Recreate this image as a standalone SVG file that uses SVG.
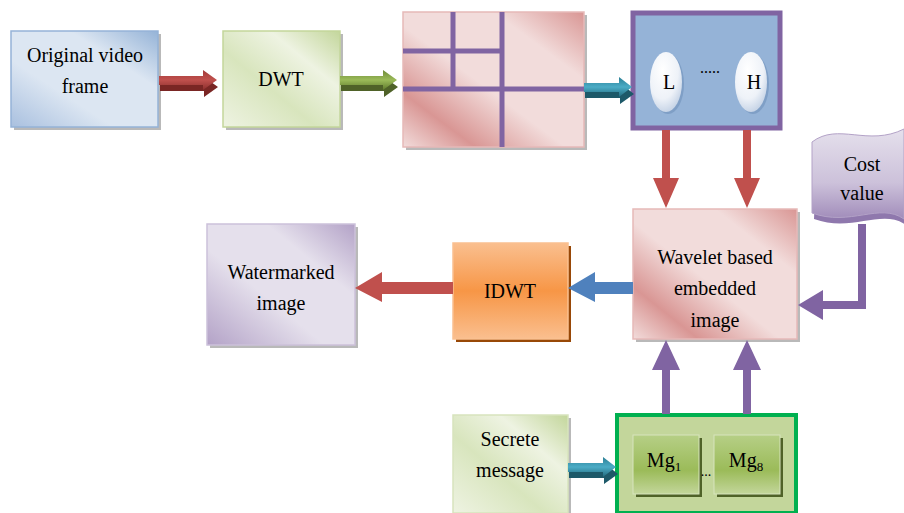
<svg xmlns="http://www.w3.org/2000/svg" width="904" height="513" viewBox="0 0 904 513">
<defs>
<linearGradient id="gBlue" x1="0" y1="1" x2="1" y2="0"><stop offset="0" stop-color="#a9c0df"/><stop offset="0.35" stop-color="#dce6f2"/><stop offset="0.7" stop-color="#dce6f2"/><stop offset="1" stop-color="#95b3d7"/></linearGradient>
<linearGradient id="gGreen" x1="0" y1="1" x2="1" y2="0"><stop offset="0" stop-color="#eef3e2"/><stop offset="0.4" stop-color="#d8e5bd"/><stop offset="0.7" stop-color="#eef3e2"/><stop offset="1" stop-color="#c3d69b"/></linearGradient>
<linearGradient id="gPink" x1="0" y1="1" x2="1" y2="0"><stop offset="0" stop-color="#f2dcdb"/><stop offset="0.2" stop-color="#d99694"/><stop offset="0.45" stop-color="#f2dcdb"/><stop offset="0.75" stop-color="#f2dcdb"/><stop offset="1" stop-color="#d99694"/></linearGradient>
<linearGradient id="gPurple" x1="0" y1="1" x2="1" y2="0"><stop offset="0" stop-color="#b3a2c7"/><stop offset="0.4" stop-color="#e5e0ec"/><stop offset="0.7" stop-color="#e5e0ec"/><stop offset="1" stop-color="#b3a2c7"/></linearGradient>
<linearGradient id="gOrange" x1="0" y1="0" x2="0" y2="1"><stop offset="0" stop-color="#fabf8f"/><stop offset="0.5" stop-color="#f79646"/><stop offset="1" stop-color="#fabf8f"/></linearGradient>
<linearGradient id="gMg" x1="0" y1="0" x2="0" y2="1"><stop offset="0" stop-color="#b6cf86"/><stop offset="0.6" stop-color="#9bbb59"/><stop offset="1" stop-color="#c3d69b"/></linearGradient>
<linearGradient id="gCost" x1="0" y1="0" x2="0" y2="1"><stop offset="0" stop-color="#e5e0ec"/><stop offset="0.6" stop-color="#ccc1da"/><stop offset="1" stop-color="#a18cba"/></linearGradient>
<radialGradient id="gEll" cx="0.4" cy="0.3" r="0.8"><stop offset="0" stop-color="#ffffff"/><stop offset="0.6" stop-color="#eef2f8"/><stop offset="1" stop-color="#b8c9e0"/></radialGradient>
<linearGradient id="gArrRed" x1="0" y1="0" x2="0" y2="1"><stop offset="0" stop-color="#a33a38"/><stop offset="0.5" stop-color="#c0504d"/><stop offset="1" stop-color="#8c2f2d"/></linearGradient>
<linearGradient id="gArrGreen" x1="0" y1="0" x2="0" y2="1"><stop offset="0" stop-color="#6f8a38"/><stop offset="0.5" stop-color="#9bbb59"/><stop offset="1" stop-color="#5f7a2c"/></linearGradient>
<linearGradient id="gArrTeal" x1="0" y1="0" x2="0" y2="1"><stop offset="0" stop-color="#2c7f95"/><stop offset="0.5" stop-color="#4bacc6"/><stop offset="1" stop-color="#226a7d"/></linearGradient>
</defs>
<style>
text{font-family:"Liberation Serif","DejaVu Serif","Times New Roman",serif;font-size:20px;fill:#000;text-anchor:middle}
.sh{fill:#7f7f7f;opacity:0.55}
.grid{stroke:#8064a2;stroke-width:5;fill:none}
</style>

<g id="original">
<rect class="sh" x="14" y="34" width="147" height="96"/>
<rect x="11" y="31" width="147" height="96" fill="url(#gBlue)" stroke="#95b3d7" stroke-width="1.5"/>
<text x="85" y="62">Original video</text>
<text x="85" y="93">frame</text>
</g>

<g id="dwt">
<rect class="sh" x="226" y="34" width="117" height="96"/>
<rect x="223" y="31" width="117" height="96" fill="url(#gGreen)" stroke="#c3d69b" stroke-width="1.5"/>
<text x="281" y="86">DWT</text>
</g>

<g id="subbands">
<rect class="sh" x="406" y="15" width="181" height="135"/>
<rect x="403" y="12" width="181" height="135" fill="url(#gPink)" stroke="#e6b9b8" stroke-width="1.5"/>
<line class="grid" x1="453" y1="12" x2="453" y2="89"/>
<line class="grid" x1="502" y1="12" x2="502" y2="147"/>
<line class="grid" x1="403" y1="51" x2="502" y2="51"/>
<line class="grid" x1="403" y1="89" x2="584" y2="89"/>
</g>

<g id="lh">
<rect x="633" y="13" width="147" height="115" fill="#95b3d7" stroke="#8064a2" stroke-width="5"/>
<ellipse cx="668" cy="84" rx="16" ry="30" fill="#7f9fc6"/>
<ellipse cx="666" cy="82" rx="16" ry="30" fill="url(#gEll)"/>
<ellipse cx="753" cy="84" rx="16" ry="30" fill="#7f9fc6"/>
<ellipse cx="751" cy="82" rx="16" ry="30" fill="url(#gEll)"/>
<text x="669" y="89">L</text>
<text x="754" y="89">H</text>
<text x="710" y="73" style="font-size:16px">.....</text>
</g>

<g id="cost">
<path d="M815,145 C840,125 870,150 904,132 L904,222 C880,205 850,230 812,216 Z" fill="#8f78ad" transform="translate(2,3)"/>
<path d="M812,142 C838,122 868,147 904,129 L904,219 C880,202 850,227 812,213 Z" fill="url(#gCost)" stroke="#b3a2c7" stroke-width="1"/>
<text x="862" y="171">Cost</text>
<text x="862" y="200">value</text>
</g>

<g id="wavelet">
<rect class="sh" x="636" y="212" width="164" height="130"/>
<rect x="633" y="209" width="164" height="130" fill="url(#gPink)" stroke="#e6b9b8" stroke-width="1.5"/>
<text x="715" y="264">Wavelet based</text>
<text x="715" y="295">embedded</text>
<text x="715" y="327">image</text>
</g>

<g id="watermarked">
<rect class="sh" x="210" y="227" width="148" height="121"/>
<rect x="207" y="224" width="148" height="121" fill="url(#gPurple)" stroke="#ccc1da" stroke-width="1.5"/>
<text x="281" y="279">Watermarked</text>
<text x="281" y="310">image</text>
</g>

<g id="idwt">
<rect x="456" y="246" width="115" height="96" fill="#984807"/>
<rect x="453" y="243" width="115" height="96" fill="url(#gOrange)" stroke="#fac090" stroke-width="1.5"/>
<text x="510" y="298">IDWT</text>
</g>

<g id="secrete">
<rect class="sh" x="456" y="418" width="115" height="98"/>
<rect x="453" y="415" width="115" height="98" fill="url(#gGreen)" stroke="#d7e4bd" stroke-width="1.5"/>
<text x="510" y="446">Secrete</text>
<text x="510" y="477">message</text>
</g>

<g id="mgroup">
<rect x="617" y="415" width="179" height="98" fill="#c3d69b" stroke="#00b050" stroke-width="4"/>
<rect x="636" y="438" width="66" height="59" fill="#4f6228"/>
<rect x="633" y="435" width="66" height="59" fill="url(#gMg)" stroke="#d7e4bd" stroke-width="1"/>
<rect x="717" y="438" width="66" height="59" fill="#4f6228"/>
<rect x="714" y="435" width="66" height="59" fill="url(#gMg)" stroke="#d7e4bd" stroke-width="1"/>
<text x="664" y="467">Mg<tspan style="font-size:13px" dy="4">1</tspan></text>
<text x="746" y="467">Mg<tspan style="font-size:13px" dy="4">8</tspan></text>
<text x="706" y="476" style="font-size:14px">...</text>
</g>

<g id="connectors">
<polygon points="160,79 204,79 204,73 218,83 204,93 204,87 160,87" fill="#7a2624" transform="translate(0,4)"/>
<polygon points="159,76 203,76 203,70 217,80 203,90 203,85 159,85" fill="url(#gArrRed)"/>
<polygon points="341,79 384,79 384,73 398,83 384,93 384,87 341,87" fill="#4f6228" transform="translate(0,4)"/>
<polygon points="340,76 383,76 383,70 397,80 383,90 383,85 340,85" fill="url(#gArrGreen)"/>
<polygon points="585,86 620,86 620,80 634,91 620,101 620,95 585,95" fill="#1d5969" transform="translate(0,3)"/>
<polygon points="584,83 619,83 619,77 632,87 619,97 619,92 584,92" fill="url(#gArrTeal)"/>
<polygon points="569,466 604,466 604,460 618,471 604,481 604,475 569,475" fill="#1d5969" transform="translate(0,3)"/>
<polygon points="568,463 603,463 603,457 616,467 603,477 603,472 568,472" fill="url(#gArrTeal)"/>
<polygon points="662,130 670,130 670,178 679,178 666,208 653,178 662,178" fill="#c0504d"/>
<polygon points="743,130 751,130 751,178 760,178 747,208 734,178 743,178" fill="#c0504d"/>
<polygon points="662,414 670,414 670,370 680,370 666,340 652,370 662,370" fill="#8064a2"/>
<polygon points="743,414 751,414 751,370 761,370 747,340 733,370 743,370" fill="#8064a2"/>
<polygon points="453,282 382,282 382,272 355,288 382,302 382,294 453,294" fill="#c0504d"/>
<polygon points="633,282 595,282 595,272 568,288 595,302 595,294 633,294" fill="#4f81bd"/>
<polygon points="858,224 866,224 866,309 823,309 823,320 798,305 823,290 823,301 858,301" fill="#8064a2"/>
</g>
</svg>
